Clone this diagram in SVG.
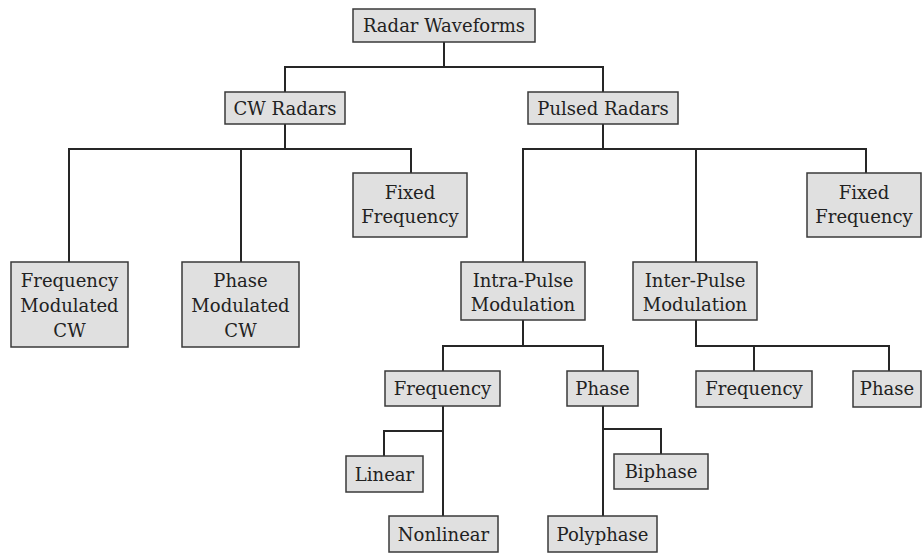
<svg xmlns="http://www.w3.org/2000/svg" width="923" height="553" viewBox="0 0 923 553">
<style>
.box{fill:#e0e0e0;stroke:#3a3a3a;stroke-width:1.5}
.t{font-family:"DejaVu Serif","Liberation Serif",serif;font-size:18px;fill:#222;text-anchor:middle}
.c{fill:none;stroke:#262626;stroke-width:2;stroke-linecap:square}
</style>
<rect width="923" height="553" fill="#fff"/>
<g id="connectors" class="c">
<path d="M444,42V67M285,67H603M285,67V92M603,67V92"/>
<path d="M285,124V149M69,149H411M69,149V262M241,149V262M411,149V173"/>
<path d="M603,124V149M523,149H866M523,149V262M696,149V262M866,149V173"/>
<path d="M523,320V346M443,346H603M443,346V371M603,346V371"/>
<path d="M696,320V346H889V371M754,346V371"/>
<path d="M443,406V516M384,431H443M384,431V456"/>
<path d="M603,406V516M603,429H661V454"/>
</g>
<g id="radar-waveforms"><rect class="box" x="353" y="9" width="182" height="33"/><text class="t" x="444" y="32">Radar Waveforms</text></g>
<g id="cw-radars"><rect class="box" x="225" y="92" width="120" height="32"/><text class="t" x="285" y="115">CW Radars</text></g>
<g id="pulsed-radars"><rect class="box" x="528" y="92" width="150" height="32"/><text class="t" x="603" y="115">Pulsed Radars</text></g>
<g id="fmcw"><rect class="box" x="11" y="262" width="117" height="85"/><text class="t" x="69.5" y="287">Frequency</text><text class="t" x="69.5" y="312">Modulated</text><text class="t" x="69.5" y="337">CW</text></g>
<g id="pmcw"><rect class="box" x="182" y="262" width="117" height="85"/><text class="t" x="240.5" y="287">Phase</text><text class="t" x="240.5" y="312">Modulated</text><text class="t" x="240.5" y="337">CW</text></g>
<g id="cw-fixed"><rect class="box" x="353" y="173" width="114" height="64"/><text class="t" x="410" y="199">Fixed</text><text class="t" x="410" y="223">Frequency</text></g>
<g id="pulsed-fixed"><rect class="box" x="807" y="173" width="114" height="64"/><text class="t" x="864" y="199">Fixed</text><text class="t" x="864" y="223">Frequency</text></g>
<g id="intra-pulse"><rect class="box" x="461" y="262" width="124" height="58"/><text class="t" x="523" y="287">Intra-Pulse</text><text class="t" x="523" y="311">Modulation</text></g>
<g id="inter-pulse"><rect class="box" x="633" y="262" width="124" height="58"/><text class="t" x="695" y="287">Inter-Pulse</text><text class="t" x="695" y="311">Modulation</text></g>
<g id="intra-frequency"><rect class="box" x="385" y="371" width="115" height="35"/><text class="t" x="442.5" y="395">Frequency</text></g>
<g id="intra-phase"><rect class="box" x="567" y="371" width="71" height="35"/><text class="t" x="602.5" y="395">Phase</text></g>
<g id="inter-frequency"><rect class="box" x="696" y="371" width="116" height="36"/><text class="t" x="754" y="395">Frequency</text></g>
<g id="inter-phase"><rect class="box" x="853" y="371" width="68" height="36"/><text class="t" x="887" y="395">Phase</text></g>
<g id="linear"><rect class="box" x="346" y="456" width="77" height="36"/><text class="t" x="384.5" y="481">Linear</text></g>
<g id="nonlinear"><rect class="box" x="389" y="516" width="109" height="36"/><text class="t" x="443.5" y="541">Nonlinear</text></g>
<g id="biphase"><rect class="box" x="614" y="454" width="94" height="35"/><text class="t" x="661" y="478">Biphase</text></g>
<g id="polyphase"><rect class="box" x="548" y="516" width="109" height="36"/><text class="t" x="602.5" y="541">Polyphase</text></g>
</svg>
